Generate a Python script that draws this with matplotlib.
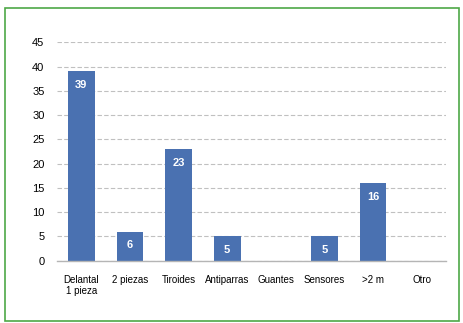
import matplotlib
matplotlib.use("Agg")
import matplotlib.pyplot as plt
from matplotlib.patches import Rectangle

plt.rcParams['font.family'] = ['Liberation Sans', 'DejaVu Sans']

categorias = ['Delantal\n1 pieza', '2 piezas', 'Tiroides', 'Antiparras',
              'Guantes', 'Sensores', '>2 m', 'Otro']
valores = [39, 6, 23, 5, 0, 5, 16, 0]
yticks = [0, 5, 10, 15, 20, 25, 30, 35, 40, 45]

fig = plt.figure(figsize=(4.64, 3.23), dpi=100)
ax = fig.add_axes([0.1228, 0.1929, 0.8384, 0.676])

x = range(len(categorias))
bars = ax.bar(x, valores, width=0.55, color='#4a71b1', zorder=3)

for b, v in zip(bars, valores):
    if v > 0:
        ax.annotate(str(v), (b.get_x() + b.get_width() / 2, v),
                    xytext=(0, -10), textcoords='offset points',
                    ha='center', va='center', color='white',
                    fontsize=8, fontweight='bold', zorder=4)

ax.set_xlim(-0.5, len(categorias) - 0.5)
ax.set_ylim(0, 45)
ax.set_yticks(yticks)
ax.set_xticks(list(x))
ax.set_xticklabels(categorias, fontsize=7, va='top')
ax.tick_params(axis='y', labelsize=8, length=0, pad=9)
ax.tick_params(axis='x', length=0, pad=10)

ax.grid(axis='y', color='#c0c0c0', linestyle=(0, (4, 2)), linewidth=0.8, zorder=0)
for s in ['top', 'right', 'left']:
    ax.spines[s].set_visible(False)
ax.spines['bottom'].set_color('#b5b5b5')
ax.spines['bottom'].set_linewidth(1.0)
ax.spines['bottom'].set_zorder(5)

# green frame around the whole figure
fig.patches.append(Rectangle((0.0108, 0.0062), 0.979, 0.9675,
                             transform=fig.transFigure, fill=False,
                             edgecolor='#4ea847', linewidth=1.2))

fig.savefig('out.png', dpi=100)
